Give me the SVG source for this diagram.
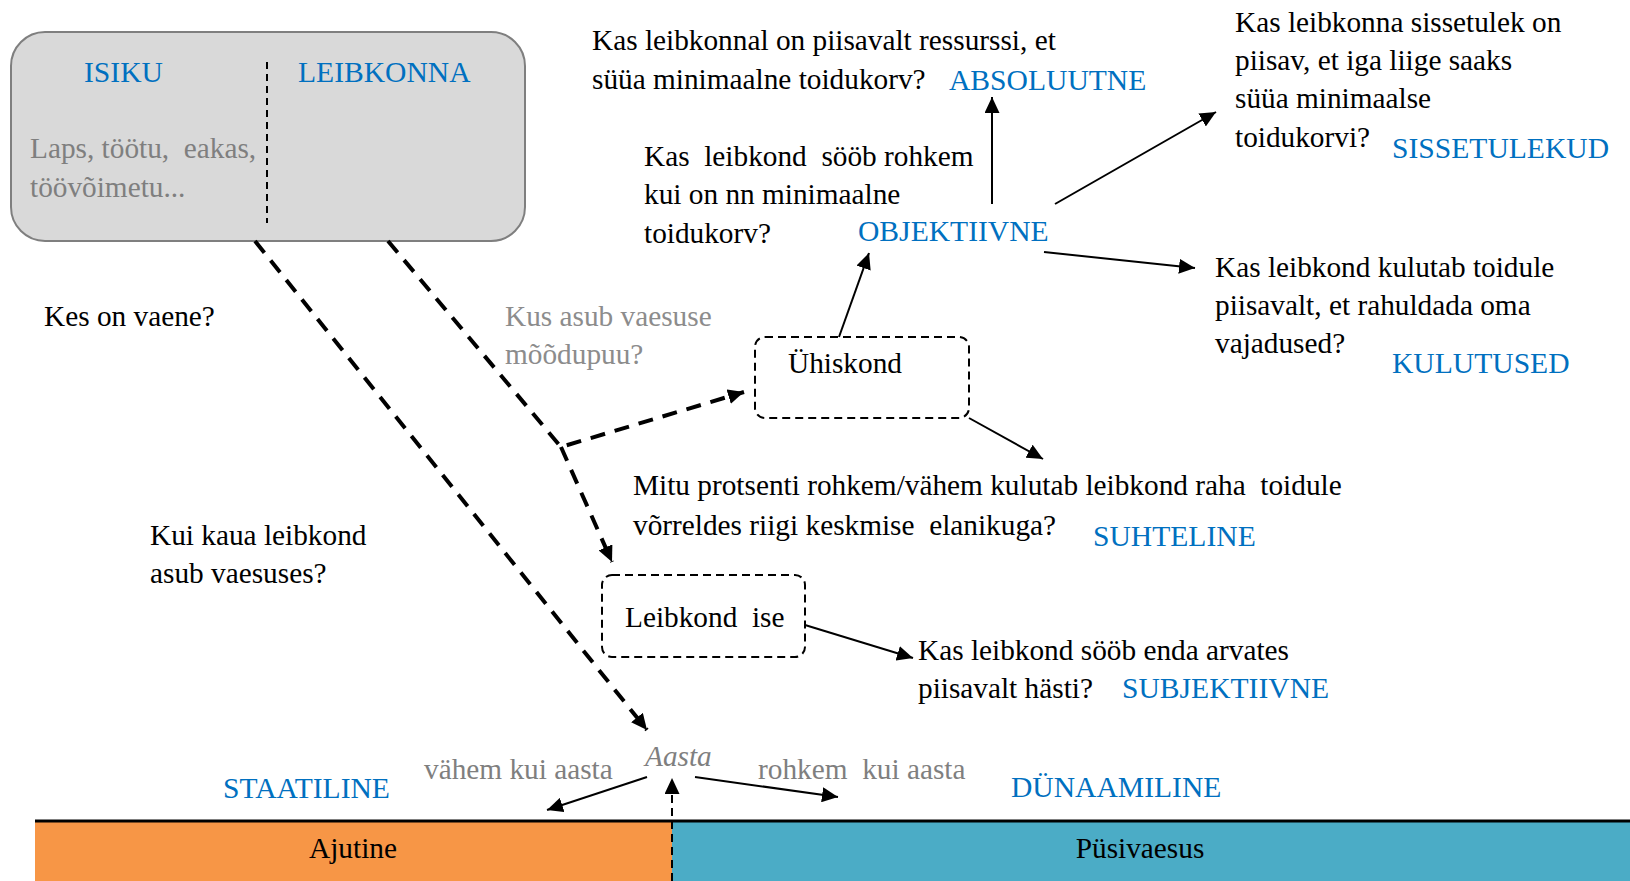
<svg xmlns="http://www.w3.org/2000/svg" width="1630" height="881" viewBox="0 0 1630 881">
<style>
text{font-family:"Liberation Serif","Times New Roman",serif;font-size:29.3px;fill:#000;white-space:pre}
.b{fill:#0070c0;font-size:29.6px}
.g{fill:#7f7f7f}
.lg{fill:#8c8c8c}
.i{font-style:italic}
.c{stroke:#000;fill:none}
.thick{stroke-width:4;stroke-dasharray:15 10}
.thin{stroke-width:2}
.dash{stroke-dasharray:8 5}
.box{fill:none;stroke:#000;stroke-width:2;stroke-dasharray:8 5}
</style>
<defs>
<marker id="arr" markerUnits="userSpaceOnUse" markerWidth="17" markerHeight="15" refX="16" refY="7.5" orient="auto">
<path d="M0,0 L16,7.5 L0,15 z" fill="#000" stroke="none"/>
</marker>
</defs>
<rect width="1630" height="881" fill="#fff"/>

<g id="bar">
<rect x="35" y="822" width="637" height="59" fill="#f79646"/>
<rect x="672" y="822" width="958" height="59" fill="#4bacc6"/>
<line x1="35" y1="821" x2="1630" y2="821" stroke="#000" stroke-width="3"/>
<text x="353" y="858" text-anchor="middle">Ajutine</text>
<text x="1140" y="858" text-anchor="middle">Püsivaesus</text>
</g>

<g id="personbox">
<rect x="11" y="32" width="514" height="209" rx="34" ry="34" fill="#d9d9d9" stroke="#7f7f7f" stroke-width="2"/>
<line x1="267" y1="62" x2="267" y2="223" stroke="#000" stroke-width="2" stroke-dasharray="7 5"/>
<text x="84" y="82" class="b">ISIKU</text>
<text x="298" y="82" class="b">LEIBKONNA</text>
<text x="30" y="158" class="g">Laps, töötu,  eakas,</text>
<text x="30" y="197" class="g">töövõimetu...</text>
</g>

<g id="q-kes"><text x="44" y="326">Kes on vaene?</text></g>
<g id="q-kuikaua">
<text x="150" y="545">Kui kaua leibkond</text>
<text x="150" y="583">asub vaesuses?</text>
</g>
<g id="q-kus">
<text x="505" y="326" class="lg">Kus asub vaesuse</text>
<text x="505" y="364" class="lg">mõõdupuu?</text>
</g>

<g id="absoluutne">
<text x="592" y="50">Kas leibkonnal on piisavalt ressurssi, et</text>
<text x="592" y="89">süüa minimaalne toidukorv?</text>
<text x="949" y="90" class="b">ABSOLUUTNE</text>
</g>

<g id="objektiivne">
<text x="644" y="166">Kas  leibkond  sööb rohkem</text>
<text x="644" y="204">kui on nn minimaalne</text>
<text x="644" y="243">toidukorv?</text>
<text x="858" y="241" class="b">OBJEKTIIVNE</text>
</g>

<g id="sissetulekud">
<text x="1235" y="32">Kas leibkonna sissetulek on</text>
<text x="1235" y="70">piisav, et iga liige saaks</text>
<text x="1235" y="108">süüa minimaalse</text>
<text x="1235" y="147">toidukorvi?</text>
<text x="1392" y="158" class="b">SISSETULEKUD</text>
</g>

<g id="kulutused">
<text x="1215" y="277">Kas leibkond kulutab toidule</text>
<text x="1215" y="315">piisavalt, et rahuldada oma</text>
<text x="1215" y="353">vajadused?</text>
<text x="1392" y="373" class="b">KULUTUSED</text>
</g>

<g id="uhiskond">
<rect x="755" y="337" width="214" height="81" rx="10" ry="10" class="box"/>
<text x="788" y="373">Ühiskond</text>
</g>

<g id="suhteline">
<text x="633" y="495">Mitu protsenti rohkem/vähem kulutab leibkond raha  toidule</text>
<text x="633" y="535">võrreldes riigi keskmise  elanikuga?</text>
<text x="1093" y="546" class="b">SUHTELINE</text>
</g>

<g id="leibkondise">
<rect x="602" y="575" width="203" height="82" rx="10" ry="10" class="box"/>
<text x="625" y="627">Leibkond  ise</text>
</g>

<g id="subjektiivne">
<text x="918" y="660">Kas leibkond sööb enda arvates</text>
<text x="918" y="698">piisavalt hästi?</text>
<text x="1122" y="698" class="b">SUBJEKTIIVNE</text>
</g>

<g id="aasta">
<text x="645" y="766" class="g i">Aasta</text>
<text x="424" y="779" class="g">vähem kui aasta</text>
<text x="758" y="779" class="g">rohkem  kui aasta</text>
<text x="223" y="798" class="b">STAATILINE</text>
<text x="1011" y="797" class="b">DÜNAAMILINE</text>
</g>

<g id="connectors">
<path class="c thick" d="M255,241 L647,730" marker-end="url(#arr)"/>
<path class="c thick" d="M388,241 L561,447 L744,392" marker-end="url(#arr)"/>
<path class="c thick" d="M561,447 L612,562" marker-end="url(#arr)"/>
<path class="c thin" d="M839,337 L869,253" marker-end="url(#arr)"/>
<path class="c thin" d="M992,204 L992,97" marker-end="url(#arr)"/>
<path class="c thin" d="M1055,204 L1216,112" marker-end="url(#arr)"/>
<path class="c thin" d="M1044,252 L1195,268" marker-end="url(#arr)"/>
<path class="c thin" d="M969,418 L1043,459" marker-end="url(#arr)"/>
<path class="c thin" d="M805,625 L913,658" marker-end="url(#arr)"/>
<path class="c thin" d="M647,777 L547,810" marker-end="url(#arr)"/>
<path class="c thin" d="M695,777 L838,797" marker-end="url(#arr)"/>
<path class="c thin dash" d="M672,881 L672,778" marker-end="url(#arr)"/>
</g>
</svg>
